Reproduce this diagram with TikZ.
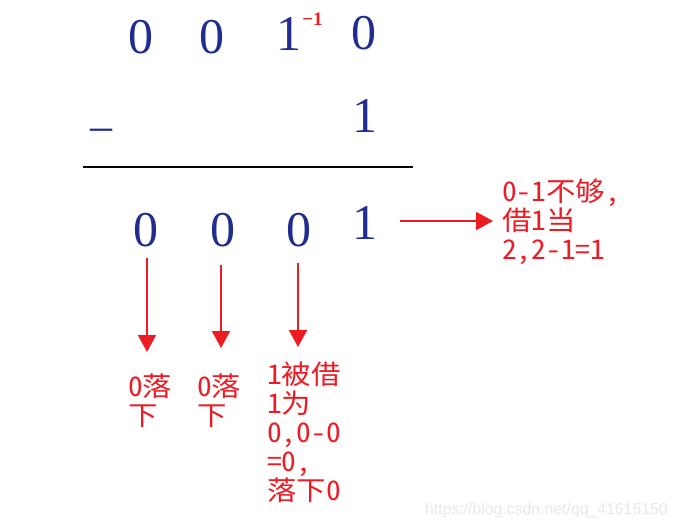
\documentclass[tikz,border=0pt]{standalone}
\usepackage{fontspec}
\setmainfont{Liberation Serif}
\newfontfamily\cjk[RawFeature=+hwid,FakeStretch=1.09]{Noto Sans CJK SC}
\newfontfamily\wmfont{Liberation Sans}
\usetikzlibrary{arrows.meta}
\definecolor{dblue}{RGB}{33,44,143}
\definecolor{ared}{RGB}{237,28,36}
\definecolor{wm}{RGB}{232,232,232}
\tikzset{
  digit/.style={inner sep=0pt, anchor=base, text=dblue, font=\fontsize{50}{50}\selectfont},
  sup/.style={inner sep=0pt, anchor=base, text=ared, font=\bfseries\fontsize{19}{19}\selectfont},
  note/.style={inner sep=0pt, anchor=base west, align=left, text=ared, font=\cjk\fontsize{27}{29}\selectfont},
  arr/.style={draw=ared, line width=2pt, -{Triangle[length=17pt,width=18pt]}},
}
\begin{document}
\begin{tikzpicture}[x=1pt,y=-1pt]
\useasboundingbox[fill=white] (0,0) rectangle (677,527);
% top row
\node[digit] (t1) at (141,53) {0};
\node[digit] (t2) at (212,53) {0};
\node[digit] (t3) at (288.5,51) {1};
\node[sup] (ts) at (312.5,25.5) {−1};
\node[digit] (t4) at (364,50) {0};
% second row
\node[digit, font=\fontsize{44}{44}\selectfont] (minus) at (101,140) {–};
\node[digit] (m4) at (365,132) {1};
% rule
\coordinate (r1) at (83,167);
\coordinate (r2) at (413,167);
\draw[line width=2.8pt] (r1) -- (r2);
% result row
\node[digit] (b1) at (146,246) {0};
\node[digit] (b2) at (222.5,246) {0};
\node[digit] (b3) at (298.5,246) {0};
\node[digit] (b4) at (365,239) {1};
% notes (base anchor = baseline of the last line)
\node[note] (nr) at (502,259) {0-1不够,\\借1当\\2,2-1=1};
\node[note] (n1) at (128,425) {0落\\下};
\node[note] (n2) at (197,425) {0落\\下};
\node[note] (n3) at (267,500) {1被借\\1为\\0,0-0\\=0,\\落下0};
% arrows
\coordinate (a1s) at (147,258); \coordinate (a1e) at (147,352);
\coordinate (a2s) at (221,265); \coordinate (a2e) at (221,348);
\coordinate (a3s) at (298,263); \coordinate (a3e) at (298,347);
\coordinate (ars) at (400,221); \coordinate (are) at (493,221);
\draw[arr] (a1s) -- (a1e);
\draw[arr] (a2s) -- (a2e);
\draw[arr] (a3s) -- (a3e);
\draw[arr] (ars) -- (are);
% watermark
\node[inner sep=0pt, anchor=base west, text=wm, font=\wmfont\fontsize{15.8}{16}\selectfont] (wmk) at (425,514) {https://blog.csdn.net/qq\_41615150};
\end{tikzpicture}
\end{document}
